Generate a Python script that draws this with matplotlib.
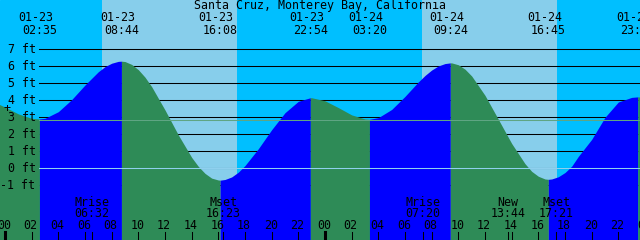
import matplotlib
matplotlib.use("Agg")
import matplotlib.pyplot as plt

# ---------------- data ----------------
title = "Santa Cruz, Monterey Bay, California"

# tide events (high / low)
event_dates = ["01-23", "01-23", "01-23", "01-23", "01-24", "01-24", "01-24", "01-24"]
event_times = ["02:35", "08:44", "16:08", "22:54", "03:20", "09:24", "16:45", "23:27"]
event_types = ["Low", "High", "Low", "High", "Low", "High", "Low", "High"]
event_heights = [2.90, 6.30, -0.70, 4.15, 2.88, 6.20, -0.65, 4.20]

# tide heights (ft), hours counted from 01-23 00:00
tide_hours = [-1, 0, 1, 2, 3, 4, 5, 6, 7, 7.5, 8, 8.5, 9, 9.5, 10, 10.5, 11, 12,
              13, 14, 14.5, 15, 15.5, 16, 16.5, 17, 17.5, 18, 19, 20, 21, 22,
              23, 24, 25, 26, 27, 28, 29, 30, 31, 31.5, 32, 32.5, 33, 33.5, 34,
              34.5, 35, 36, 37, 38, 39, 39.5, 40, 40.5, 41, 41.5, 42, 42.5, 43,
              44, 45, 46, 47, 48]
tide_heights = [3.97, 3.60, 3.20, 2.94, 2.94, 3.33, 4.04, 4.90, 5.68, 5.98,
                6.18, 6.29, 6.28, 6.11, 5.80, 5.36, 4.80, 3.43, 1.96, 0.64,
                0.11, -0.30, -0.58, -0.69, -0.66, -0.51, -0.23, 0.16, 1.15,
                2.27, 3.27, 3.94, 4.15, 3.97, 3.57, 3.14, 2.90, 2.98, 3.46,
                4.23, 5.08, 5.46, 5.78, 6.02, 6.16, 6.20, 6.09, 5.83, 5.43,
                4.29, 2.88, 1.46, 0.27, -0.18, -0.47, -0.63, -0.63, -0.50,
                -0.25, 0.12, 0.70, 1.70, 3.00, 3.90, 4.17, 4.18]

# sun (daylight spans)
sunrise = ["01-23 07:15", "01-24 07:17"]
sunset = ["01-23 17:23", "01-24 17:23"]

# moon events
moon_labels = ["Mrise", "Mset", "Mrise", "New", "Mset"]
moon_dates = ["01-23", "01-23", "01-24", "01-24", "01-24"]
moon_times = ["06:32", "16:23", "07:20", "13:44", "17:21"]

depth_levels = [-1, 0, 1, 2, 3, 4, 5, 6, 7]
msl_level = 2.82
hour_ticks = list(range(0, 49, 2))

# ---------------- helpers ----------------
def to_hours(date, hm):
    day = int(date.split("-")[1]) - 23
    h, m = hm.split(":")
    return day * 24 + int(h) + int(m) / 60.0

W, H = 640, 240
X0, X1 = -0.375, 47.625
Y0, Y1 = -4.22, 9.9

DAY = "#87CEEB"
NIGHT = "#00BFFF"
FLOOD = "#0000FF"
EBB = "#2E8B57"
DATUM = "#8FD0EE"
MSL = "#5FA583"

FONT = dict(family="DejaVu Sans Mono", size=8.4, color="black")

fig = plt.figure(figsize=(W / 100, H / 100), dpi=100)
ax = fig.add_axes([0, 0, 1, 1])
ax.set_xlim(X0, X1)
ax.set_ylim(Y0, Y1)
ax.set_axis_off()
ax.add_patch(plt.Rectangle((X0, Y0), X1 - X0, Y1 - Y0, color=NIGHT, zorder=0))

def yfrac(px):
    return 1 - px / H

# daylight
for sr, ss in zip(sunrise, sunset):
    a = to_hours(*sr.split(" "))
    b = to_hours(*ss.split(" "))
    ax.axvspan(a, b, color=DAY, lw=0, zorder=0.5)

# depth lines (only seen above water)
for lv in depth_levels:
    ax.axhline(lv, xmin=39.3 / W, xmax=1, color="black", lw=0.75, zorder=1)

# water
ev_h = [to_hours(d, t) for d, t in zip(event_dates, event_times)]
pts = sorted(list(zip(tide_hours, tide_heights)) + list(zip(ev_h, event_heights)))
bounds = [-1e9] + ev_h + [1e9]
for k in range(len(bounds) - 1):
    a, b = bounds[k], bounds[k + 1]
    sel = [p for p in pts if a <= p[0] <= b]
    if len(sel) < 2:
        continue
    if k < len(ev_h):
        rising = event_types[k] == "High"
    else:
        rising = event_types[-1] == "Low"
    xs = [p[0] for p in sel]
    ys = [p[1] for p in sel]
    ax.fill_between(xs, Y0 - 1, ys, color=FLOOD if rising else EBB, lw=0,
                    antialiased=True, zorder=2)

# datum & msl lines
ax.axhline(0, xmin=39.3 / W, xmax=1, color=DATUM, lw=0.75, zorder=3)
ax.axhline(msl_level, xmin=39.3 / W, xmax=1, color=MSL, lw=0.75, zorder=3)

# depth labels
for lv in depth_levels:
    ax.annotate(f"{lv} ft", xy=(35.5 / W, lv), xycoords=("axes fraction", "data"),
                xytext=(0, -3.7), textcoords="offset pixels", ha="right",
                va="baseline", zorder=5, **FONT)
ax.annotate("+", xy=(7 / W, yfrac(108.3)), xycoords="axes fraction",
            ha="center", va="center", zorder=5, **FONT)

# title
ax.text(0.5, yfrac(9.5), title, transform=ax.transAxes, ha="center",
        va="baseline", zorder=5, **FONT)

# tide event labels
for d, t, x in zip(event_dates, event_times, ev_h):
    ax.annotate(d, xy=(x, yfrac(21)), xycoords=("data", "axes fraction"),
                xytext=(-21.5, 0), textcoords="offset pixels", ha="left",
                va="baseline", zorder=5, **FONT)
    ax.annotate(t, xy=(x, yfrac(34)), xycoords=("data", "axes fraction"),
                xytext=(-17.5, 0), textcoords="offset pixels", ha="left",
                va="baseline", zorder=5, **FONT)

# hour ticks & labels
for hr in hour_ticks:
    thick = hr % 24 == 0
    ax.axvline(hr, ymin=0, ymax=8.3 / H, color="black",
               lw=2.2 if thick else 0.75, zorder=5)
    ax.annotate(f"{hr % 24:02d}", xy=(hr, yfrac(229.3)),
                xycoords=("data", "axes fraction"), xytext=(-1, 0),
                textcoords="offset pixels", ha="center", va="baseline",
                zorder=5, **FONT)

# moon events
for lab, d, t in zip(moon_labels, moon_dates, moon_times):
    x = to_hours(d, t)
    ax.axvline(x, ymin=0, ymax=8.3 / H, color="black", lw=0.75, zorder=5)
    ax.text(x, yfrac(206), lab, transform=ax.get_xaxis_transform(),
            ha="center", va="baseline", zorder=5, **FONT)
    ax.text(x, yfrac(217.3), t, transform=ax.get_xaxis_transform(),
            ha="center", va="baseline", zorder=5, **FONT)

fig.savefig("out.png", dpi=100)
